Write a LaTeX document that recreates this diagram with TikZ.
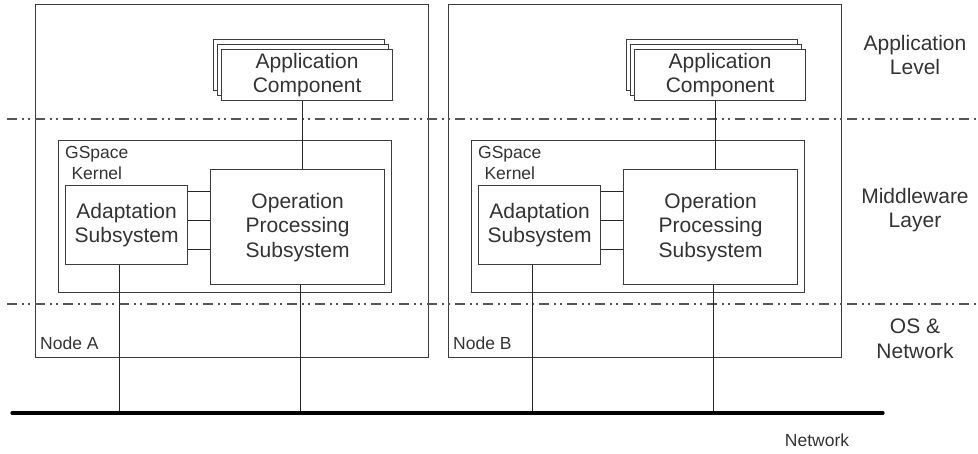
\documentclass[tikz,border=0pt]{standalone}
\usepackage{fontspec}
\setmainfont{Liberation Sans}
\definecolor{ink}{HTML}{333333}
\definecolor{edge}{HTML}{3C3C3C}
\definecolor{rule}{HTML}{555555}

\begin{document}
\begin{tikzpicture}[x=1pt,y=-1pt,
  big/.style={font=\fontsize{21}{24.5}\selectfont, text=ink},
  small/.style={font=\fontsize{17.5}{21}\selectfont, text=ink},
  frame/.style={draw=edge, line width=1.4pt, anchor=north west, inner sep=0pt},
  box/.style={draw=edge, line width=1.2pt, fill=white, anchor=north west,
              inner sep=0pt, align=center, big},
  wire/.style={draw=black!85, line width=1pt},
  layer/.style={draw=rule, line width=1.5pt,
                dash pattern=on 10pt off 5pt on 2pt off 4pt on 2pt off 5pt},
  tag/.style={small, anchor=west, inner sep=0pt},
]
\useasboundingbox (0,0) rectangle (978,454);

% network bus
\coordinate (netL) at (12,413);
\coordinate (netR) at (883,413);

% the two hosts share the same layout
\foreach \n/\dx in {A/0,B/413}{
  \begin{scope}[xshift=\dx pt]
    \node[frame, minimum width=393pt, minimum height=353pt] (node\n) at (35,4) {};
    \node[tag] (label\n) at ([xshift=5pt,yshift=15pt]node\n.south west) {Node \n};

    % stacked application components
    \node[box, minimum width=171pt, minimum height=51pt] (app\n back2) at (213,39) {};
    \node[box, minimum width=171pt, minimum height=51pt] (app\n back1) at (217,44) {};
    \node[box, minimum width=171pt, minimum height=51pt] (app\n) at (221,49)
      {Application\\Component};

    % GSpace kernel
    \node[frame, line width=1.2pt, minimum width=333pt, minimum height=152pt] (kernel\n) at (58,140) {};
    \node[small, align=center, anchor=north west, inner sep=0pt] (klabel\n)
      at ([xshift=7pt,yshift=-6pt]kernel\n.north west) {GSpace\\Kernel};
    \node[box, minimum width=122pt, minimum height=79pt] (ad\n) at (65,185)
      {Adaptation\\Subsystem};
    \node[box, minimum width=174pt, minimum height=115pt] (ops\n) at (210,169)
      {Operation\\Processing\\Subsystem};
  \end{scope}
}

% layer separators
\coordinate (d1L) at (7,119);  \coordinate (d1R) at (978,119);
\coordinate (d2L) at (7,304);  \coordinate (d2R) at (978,304);
\draw[layer] (d1L) -- (d1R);
\draw[layer] (d2L) -- (d2R);

\foreach \n in {A,B}{
  % application component to operation processing
  \draw[wire] ([xshift=5pt]ops\n.north) -- ([xshift=5pt]ops\n.north |- app\n.south);
  % adaptation to operation processing
  \foreach \dy in {7,36,65}{
    \draw[wire] ([yshift=-\dy pt]ad\n.north east) -- ([yshift=-\dy pt]ad\n.north east -| ops\n.west);
  }
  % drops to the network
  \draw[wire] ([xshift=-7pt]ad\n.south) -- ([xshift=-7pt]ad\n.south |- netL);
  \draw[wire] ([xshift=3pt]ops\n.south) -- ([xshift=3pt]ops\n.south |- netL);
}

\draw[line width=3.2pt, line cap=round] (netL) -- (netR);

% layer names
\node[big, align=center] (lvlApp) at (915,55) {Application\\Level};
\node[big, align=center] (lvlMid) at (915,210) {Middleware\\Layer};
\node[big, align=center] (lvlOS)  at (915,339) {OS \&\\Network};
\node[small] (netLabel) at (817,440) {Network};
\end{tikzpicture}
\end{document}
